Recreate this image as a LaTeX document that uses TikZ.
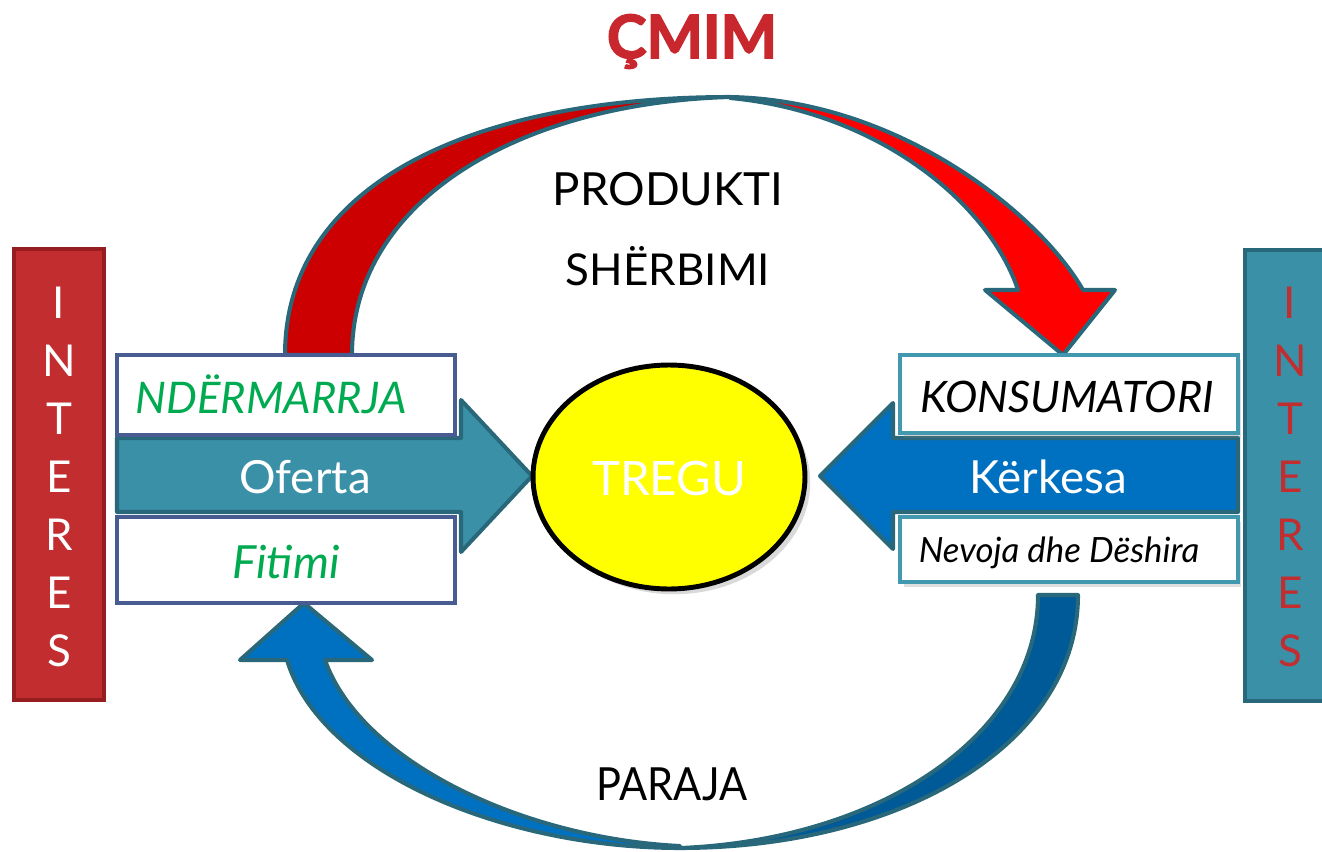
\documentclass[tikz,border=0pt]{standalone}
\usepackage{fontspec}
\setmainfont{Lato}
\newfontfamily\cmimfont[BoldFeatures={FakeBold=2.5}]{Lato}
\usetikzlibrary{shapes.geometric,shadows}
\definecolor{tealfill}{RGB}{58,144,166}
\definecolor{tealline}{RGB}{41,104,122}
\definecolor{interred}{RGB}{194,45,48}
\definecolor{interredline}{RGB}{150,30,32}
\definecolor{slate}{RGB}{72,92,145}
\definecolor{lightteal}{RGB}{66,152,174}
\definecolor{bluefill}{RGB}{0,112,192}
\definecolor{bluedark}{RGB}{0,90,152}
\definecolor{reddark}{RGB}{204,0,0}
\definecolor{redbright}{RGB}{255,0,0}
\definecolor{titlered}{RGB}{200,40,45}
\definecolor{greentext}{RGB}{0,170,80}
\definecolor{yellowfill}{RGB}{255,255,0}
\begin{document}
\begin{tikzpicture}[x=0.02cm,y=-0.02cm,
  txt/.style={inner sep=0pt, anchor=base},
  big/.style={font=\fontsize{26}{30}\selectfont},
  arcline/.style={draw=tealline, line width=2.3pt, line join=round},
  lbox/.style={draw=slate, fill=white, line width=2.3pt, inner sep=0pt},
  rbox/.style={draw=lightteal, fill=white, line width=2.3pt, inner sep=0pt,
    drop shadow={shadow xshift=2pt, shadow yshift=-3pt, opacity=0.25}},
  interbox/.style={line width=2.3pt, inner sep=0pt, minimum width=1.8cm, minimum height=9.02cm},
  interletters/.style={inner sep=0pt, align=center, font=\fontsize{25}{33}\selectfont}]
\useasboundingbox (0,0) rectangle (1322,852);

% INTERES side bars
\node[interbox, draw=interredline, fill=interred] (lint) at (59,474.5) {};
\node[interletters, text=white] (lintt) at (59,477) {I\\N\\T\\E\\R\\E\\S};
\node[interbox, draw=tealline, fill=tealfill] (rint) at (1290,475.5) {};
\node[interletters, text=interred] (rintt) at (1290,477) {I\\N\\T\\E\\R\\E\\S};

% top curved red arrow
\filldraw[fill=reddark, arcline] (285,355) .. controls (285,180) and (480,97) .. (730,97)
   .. controls (520,103) and (352,200) .. (352,355) -- cycle;
\filldraw[fill=redbright, arcline] (730,97) .. controls (900,100) and (1040,215) .. (1083,290)
   -- (1115,290) -- (1063,355) -- (985,290) -- (1018,290)
   .. controls (990,205) and (880,112) .. (730,98) -- cycle;

% bottom curved blue arrow
\filldraw[fill=bluedark, arcline] (1038,595) -- (1078,595) .. controls (1078,745) and (900,848) .. (680,848)
   .. controls (880,840) and (1038,735) .. (1038,595) -- cycle;
\filldraw[fill=bluefill, arcline] (680,848) .. controls (500,848) and (320,770) .. (287,660)
   -- (240,660) -- (304,603) -- (372,660) -- (325,660)
   .. controls (360,760) and (520,838) .. (680,846) -- cycle;

% Oferta arrow
\filldraw[fill=tealfill, arcline] (117,438) -- (461,438) -- (461,400) -- (532,476) -- (461,552)
   -- (461,512) -- (117,512) -- cycle;
% Kerkesa arrow
\filldraw[fill=bluefill, arcline] (1238,438) -- (893,438) -- (893,403) -- (820,476) -- (893,549)
   -- (893,512) -- (1238,512) -- cycle;

% left boxes
\node[lbox, minimum width=6.76cm, minimum height=1.6cm] (ndm) at (286,395) {};
\node[lbox, minimum width=6.76cm, minimum height=1.72cm] (fit) at (286,560) {};
% right boxes
\node[rbox, minimum width=6.76cm, minimum height=1.56cm] (kons) at (1069,394) {};
\node[rbox, minimum width=6.76cm, minimum height=1.3cm] (nev) at (1069,549.5) {};

% market
\node[ellipse, draw=black, fill=yellowfill, line width=2.8pt, minimum width=5.44cm, minimum height=4.48cm,
  drop shadow={shadow xshift=3pt, shadow yshift=-3pt, opacity=0.3}] (treg) at (669,477) {};

% texts
\node[txt, text=titlered, font=\cmimfont\fontsize{34}{38}\selectfont\bfseries] (cmim) at (692,58) {ÇMIM};
\node[txt, big] (prod) at (668,205) {PRODUKTI};
\node[txt, font=\fontsize{25}{30}\selectfont] (sher) at (668,285) {SHËRBIMI};
\node[txt, big] (para) at (672,800) {\scalebox{0.91}[1]{PARAJA}};
\node[txt, text=greentext, font=\fontsize{24.8}{30}\selectfont\itshape] (ndmt) at (271,413) {NDËRMARRJA};
\node[txt, big, text=white] (ofer) at (305,493) {Oferta};
\node[txt, text=greentext, font=\fontsize{26}{30}\selectfont\itshape] (fitt) at (286,578) {Fitimi};
\node[txt, text=white, font=\fontsize{27}{30}\selectfont] (tregt) at (669,495) {TREGU};
\node[txt, font=\fontsize{24.7}{30}\selectfont\itshape] (konst) at (1067,412) {KONSUMATORI};
\node[txt, big, text=white] (kerk) at (1048,493) {Kërkesa};
\node[txt, font=\fontsize{19.8}{24}\selectfont\itshape] (nevt) at (1059,562) {Nevoja dhe Dëshira};
\end{tikzpicture}
\end{document}
